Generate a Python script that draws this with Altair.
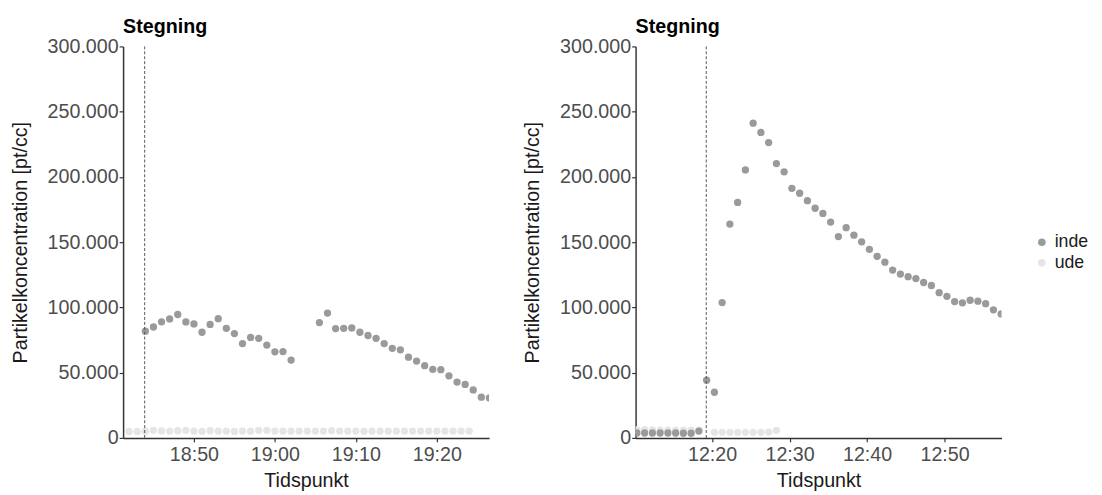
import altair as alt
import pandas as pd

# ---------------- data ----------------
# Left panel, "inde"
left_inde_times = [
    "18:44:00", "18:45:00", "18:46:00", "18:47:00", "18:48:00", "18:49:00", "18:50:00",
    "18:51:00", "18:52:00", "18:53:00", "18:54:00", "18:55:00", "18:56:00", "18:57:00",
    "18:58:00", "18:59:00", "19:00:00", "19:01:00", "19:02:00",
    "19:05:30", "19:06:30", "19:07:30", "19:08:30", "19:09:30", "19:10:30", "19:11:30",
    "19:12:30", "19:13:30", "19:14:30", "19:15:30", "19:16:30", "19:17:30", "19:18:30",
    "19:19:30", "19:20:30", "19:21:30", "19:22:30", "19:23:30", "19:24:30", "19:25:30",
    "19:26:30",
]
left_inde_values = [
    81800, 85000, 89000, 91200, 94600, 88900, 87400, 81000, 87000, 91400,
    84000, 80000, 72300, 77000, 76300, 71200, 66000, 66200, 59700,
    88400, 95700, 83800, 84000, 84300, 81000, 78500, 76300, 72300, 68700,
    67500, 61900, 58900, 55400, 52600, 52300, 47600, 42800, 41000, 36800,
    31200, 30700,
]
# Left panel, "ude"
left_ude_times = [
    "18:42:00", "18:43:00", "18:44:00", "18:45:00", "18:46:00", "18:47:00", "18:48:00",
    "18:49:00", "18:50:00", "18:51:00", "18:52:00", "18:53:00", "18:54:00", "18:55:00",
    "18:56:00", "18:57:00", "18:58:00", "18:59:00", "19:00:00", "19:01:00", "19:02:00",
    "19:03:00", "19:04:00", "19:05:00", "19:06:00", "19:07:00", "19:08:00", "19:09:00",
    "19:10:00", "19:11:00", "19:12:00", "19:13:00", "19:14:00", "19:15:00", "19:16:00",
    "19:17:00", "19:18:00", "19:19:00", "19:20:00", "19:21:00", "19:22:00", "19:23:00",
    "19:24:00",
]
left_ude_values = [
    5000, 5000, 5200, 5800, 5400, 5300, 5500, 5800, 5200, 5000, 5500,
    5300, 5300, 5000, 5300, 5200, 5800, 5800, 5300, 5300, 5200, 5300,
    5300, 5300, 5300, 5600, 5300, 5300, 5300, 5200, 5300, 5300, 5300,
    5300, 5300, 5300, 5300, 5300, 5300, 5300, 5300, 5300, 5300,
]
left_event = ["18:43:55"]

# Right panel, "inde"
right_inde_times = [
    "12:10:18", "12:11:18", "12:12:18", "12:13:18", "12:14:18", "12:15:18", "12:16:18",
    "12:17:18", "12:18:18", "12:19:18", "12:20:18", "12:21:18", "12:22:18", "12:23:18",
    "12:24:18", "12:25:18", "12:26:18", "12:27:18", "12:28:18", "12:29:18", "12:30:18",
    "12:31:18", "12:32:18", "12:33:18", "12:34:18", "12:35:18", "12:36:18", "12:37:18",
    "12:38:18", "12:39:18", "12:40:18", "12:41:18", "12:42:18", "12:43:18", "12:44:18",
    "12:45:18", "12:46:18", "12:47:18", "12:48:18", "12:49:18", "12:50:18", "12:51:18",
    "12:52:18", "12:53:18", "12:54:18", "12:55:18", "12:56:18", "12:57:18",
]
right_inde_values = [
    3800, 3800, 3800, 3800, 3800, 3800, 3600, 3600, 5300,
    44300, 35000, 103700, 163900, 180500, 205400, 241200, 234100, 226300,
    210200, 203900, 191300, 187500, 181800, 176000, 172000, 165400, 154300,
    161100, 155400, 150300, 144500, 139200, 134700, 128600, 125600, 123600,
    122100, 119100, 116800, 111300, 108500, 104500, 103500, 105500, 104800,
    102900, 98200, 95000,
]
# Right panel, "ude"
right_ude_times = [
    "12:10:18", "12:11:18", "12:12:18", "12:13:18", "12:14:18", "12:15:18", "12:16:18",
    "12:17:18", "12:18:18",
    "12:20:18", "12:21:18", "12:22:18", "12:23:18", "12:24:18", "12:25:18", "12:26:18",
    "12:27:18", "12:28:18",
]
right_ude_values = [
    6300, 6300, 6200, 6000, 6000, 6000, 6000, 6000, 6000,
    4300, 4300, 4300, 4300, 4300, 4300, 4300, 4500, 5800,
]
right_event = ["12:19:15"]

series_names = ["inde", "ude"]
series_colors = ["#9a9a9a", "#e5e5e5"]
y_ticks = [0, 50000, 100000, 150000, 200000, 250000, 300000]
left_xticks = ["18:50", "19:00", "19:10", "19:20"]
right_xticks = ["12:20", "12:30", "12:40", "12:50"]
left_xrange = ["18:41:15", "19:26:27"]
right_xrange = ["12:10:08", "12:57:21"]
panel_title = "Stegning"


def to_min(s):
    parts = [int(p) for p in s.split(":")]
    while len(parts) < 3:
        parts.append(0)
    return parts[0] * 60 + parts[1] + parts[2] / 60.0


def frame(times, values, name):
    return pd.DataFrame({"t": [to_min(t) for t in times], "v": values, "serie": name})


FONT = "Liberation Sans"
time_label = "floor(datum.value/60) + ':' + (datum.value % 60 < 10 ? '0' : '') + round(datum.value % 60)"
y_label = "replace(format(datum.value, ','), ',', '.')"

color = alt.Color(
    "serie:N",
    scale=alt.Scale(domain=series_names, range=series_colors),
    legend=alt.Legend(
        title=None, orient="none", legendX=925, legendY=190,
        symbolType="circle", symbolSize=60, labelFontSize=18, labelFont=FONT,
        labelColor="#1a1a1a", rowPadding=3, symbolOpacity=1,
    ),
)


def panel(ude_df, inde_df, event, xrange, xticks):
    x = alt.X(
        "t:Q",
        scale=alt.Scale(domain=[to_min(xrange[0]), to_min(xrange[1])], nice=False, zero=False),
        axis=alt.Axis(values=[to_min(v) for v in xticks], labelExpr=time_label, title="Tidspunkt"),
    )
    y = alt.Y(
        "v:Q",
        scale=alt.Scale(domain=[0, 300000], nice=False, zero=True),
        axis=alt.Axis(values=y_ticks, labelExpr=y_label, title="Partikelkoncentration [pt/cc]"),
    )
    ude = alt.Chart(ude_df).mark_circle(size=55, opacity=1, clip=True).encode(x=x, y=y, color=color)
    inde = alt.Chart(inde_df).mark_circle(size=55, opacity=1, clip=True).encode(x=x, y=y, color=color)
    rule = alt.Chart(pd.DataFrame({"t": [to_min(e) for e in event]})).mark_rule(
        strokeDash=[3, 2], color="#555555", strokeWidth=1
    ).encode(x=alt.X("t:Q"))
    return alt.layer(ude, inde, rule).properties(
        width=372, height=398,
        title=alt.TitleParams(panel_title, anchor="start", frame="group", fontSize=20,
                              fontWeight="bold", font=FONT, color="black", offset=0),
    )


left = panel(frame(left_ude_times, left_ude_values, "ude"),
             frame(left_inde_times, left_inde_values, "inde"),
             left_event, left_xrange, left_xticks)
right = panel(frame(right_ude_times, right_ude_values, "ude"),
              frame(right_inde_times, right_inde_values, "inde"),
              right_event, right_xrange, right_xticks)

chart = alt.hconcat(left, right, spacing=34).properties(
    padding={"left": 2, "top": 5, "right": 5, "bottom": 5}
).configure_axis(
    grid=False,
    labelFont=FONT, labelFontSize=20, labelColor="#4d4d4d", labelPadding=2,
    titleFont=FONT, titleFontSize=20, titleColor="#1a1a1a", titleFontWeight="normal",
    domainColor="#333333", domainWidth=1.5, tickColor="#333333", tickWidth=1.2, tickSize=4,
).configure_axisY(titlePadding=17, labelPadding=1).configure_axisX(titlePadding=6, labelPadding=3).configure_view(
    stroke=None
)

chart.save("out.html", embed_options={"renderer": "svg", "actions": False})
